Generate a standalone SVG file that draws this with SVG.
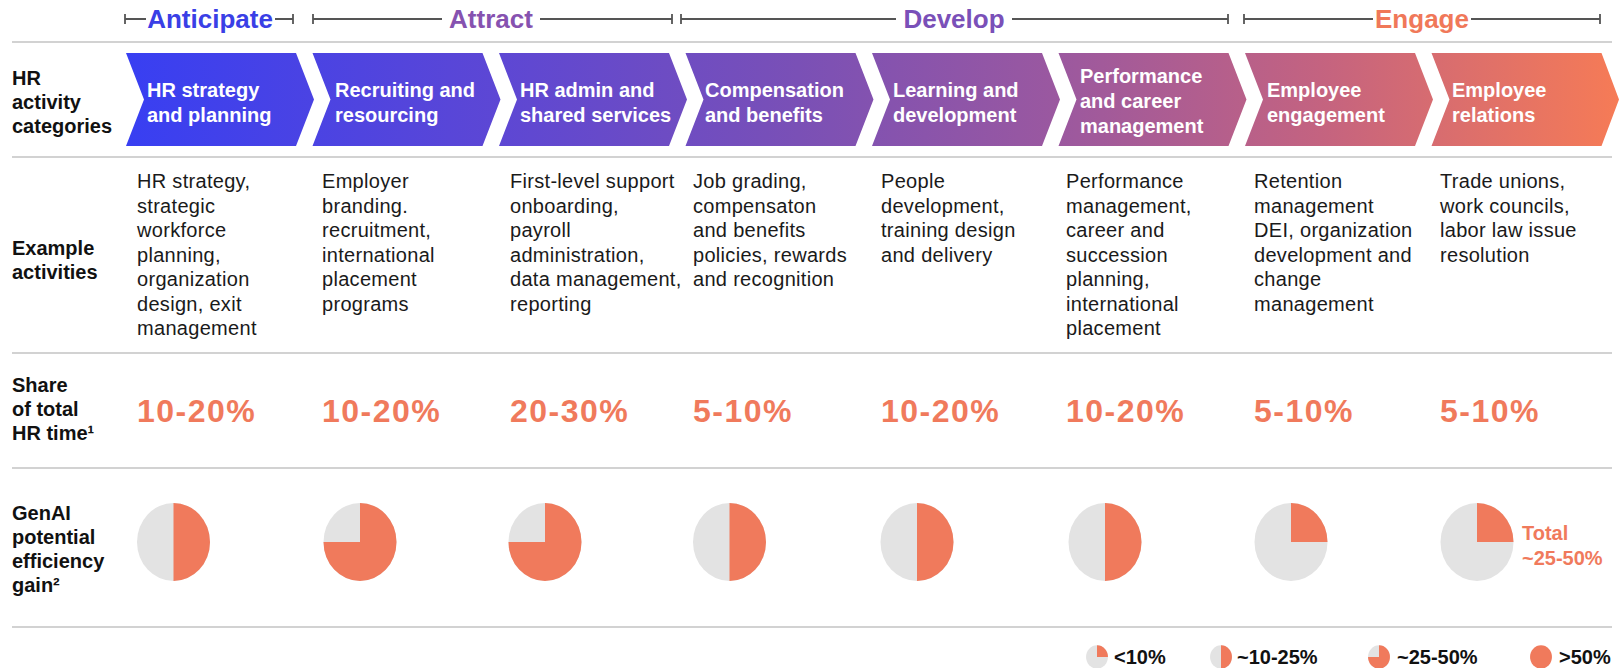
<svg xmlns="http://www.w3.org/2000/svg" width="1619" height="668" viewBox="0 0 1619 668">
<style>
.bg{fill:#ffffff}
.sep{stroke:#d2d2d2;stroke-width:2}
.brk{stroke:#555555;stroke-width:1.8;fill:none}
.ph{font-family:"Liberation Sans",Arial,sans-serif;font-weight:700;font-size:26px;text-anchor:middle}
.rl{font-family:"Liberation Sans",Arial,sans-serif;font-weight:700;font-size:20px;fill:#111}
.cv{fill:url(#cg)}
.ct{font-family:"Liberation Sans",Arial,sans-serif;font-weight:700;font-size:20px;fill:#ffffff}
.ex{font-family:"Liberation Sans",Arial,sans-serif;font-size:20px;letter-spacing:0.3px;fill:#1a1a1a}
.sh{font-family:"Liberation Sans",Arial,sans-serif;font-weight:700;font-size:32px;letter-spacing:1.5px;fill:#f07a5c}
.tot{font-family:"Liberation Sans",Arial,sans-serif;font-weight:700;font-size:20px;fill:#f07a5c}
.lg{font-family:"Liberation Sans",Arial,sans-serif;font-weight:700;font-size:20px;fill:#111}
.pg{fill:#e3e3e3}
.pc{fill:#f07a5c}
</style>
<defs>
<linearGradient id="cg" gradientUnits="userSpaceOnUse" x1="126" y1="0" x2="1619" y2="0">
<stop offset="0" stop-color="#383ff2"/>
<stop offset="0.25" stop-color="#5d47d4"/>
<stop offset="0.45" stop-color="#7a50b6"/>
<stop offset="0.62" stop-color="#9a58a0"/>
<stop offset="0.8" stop-color="#c46380"/>
<stop offset="1" stop-color="#f67b56"/>
</linearGradient>
<g id="pie-q"><ellipse class="pg" cx="0" cy="0" rx="36.5" ry="39"/><path class="pc" d="M0,0 L0,-39 A36.5,39 0 0 1 36.5,0 Z"/></g>
<g id="pie-h"><ellipse class="pg" cx="0" cy="0" rx="36.5" ry="39"/><path class="pc" d="M0,-39 A36.5,39 0 0 1 0,39 Z"/></g>
<g id="pie-t"><ellipse class="pg" cx="0" cy="0" rx="36.5" ry="39"/><path class="pc" d="M0,0 L0,-39 A36.5,39 0 1 1 -36.5,0 Z"/></g>
<g id="pie-f"><ellipse class="pc" cx="0" cy="0" rx="36.5" ry="39"/></g>
</defs>
<rect class="bg" x="0" y="0" width="1619" height="668"/>

<g id="grid">
<line class="sep" x1="12" y1="42" x2="1612" y2="42"/>
<line class="sep" x1="12" y1="157" x2="1612" y2="157"/>
<line class="sep" x1="12" y1="353" x2="1612" y2="353"/>
<line class="sep" x1="12" y1="468" x2="1612" y2="468"/>
<line class="sep" x1="12" y1="627" x2="1612" y2="627"/>
</g>

<g id="connectors">
<path class="brk" d="M125,19 H146 M125,14 V24 M275,19 H293 M293,14 V24"/>
<path class="brk" d="M313,19 H442 M313,14 V24 M540,19 H672 M672,14 V24"/>
<path class="brk" d="M681,19 H896 M681,14 V24 M1012,19 H1228 M1228,14 V24"/>
<path class="brk" d="M1244,19 H1373 M1244,14 V24 M1471,19 H1600 M1600,14 V24"/>
</g>

<g id="phases">
<text class="ph" x="210" y="28" fill="#3a3fe6">Anticipate</text>
<text class="ph" x="491" y="28" fill="#8652b0">Attract</text>
<text class="ph" x="954" y="28" fill="#7a50b8">Develop</text>
<text class="ph" x="1422" y="28" fill="#f07859">Engage</text>
</g>

<g id="row-labels">
<text class="rl" x="12" y="85">HR</text>
<text class="rl" x="12" y="109">activity</text>
<text class="rl" x="12" y="133">categories</text>
<text class="rl" x="12" y="255">Example</text>
<text class="rl" x="12" y="279">activities</text>
<text class="rl" x="12" y="392">Share</text>
<text class="rl" x="12" y="416">of total</text>
<text class="rl" x="12" y="440">HR time¹</text>
<text class="rl" x="12" y="520">GenAI</text>
<text class="rl" x="12" y="544">potential</text>
<text class="rl" x="12" y="568">efficiency</text>
<text class="rl" x="12" y="592">gain²</text>
</g>

<g id="cat-1">
<polygon class="cv" points="126,53 296,53 314,99.5 296,146 126,146 144,99.5"/>
<text class="ct" x="147" y="97">HR strategy</text>
<text class="ct" x="147" y="122">and planning</text>
<text class="ex" x="137"><tspan x="137" y="188">HR strategy,</tspan><tspan x="137" y="212.5">strategic</tspan><tspan x="137" y="237">workforce</tspan><tspan x="137" y="261.5">planning,</tspan><tspan x="137" y="286">organization</tspan><tspan x="137" y="310.5">design, exit</tspan><tspan x="137" y="335">management</tspan></text>
<text class="sh" x="137" y="422">10-20%</text>
<use href="#pie-h" x="173.5" y="542"/>
</g>

<g id="cat-2">
<polygon class="cv" points="312.5,53 482.5,53 500.5,99.5 482.5,146 312.5,146 330.5,99.5"/>
<text class="ct" x="335" y="97">Recruiting and</text>
<text class="ct" x="335" y="122">resourcing</text>
<text class="ex" x="322"><tspan x="322" y="188">Employer</tspan><tspan x="322" y="212.5">branding.</tspan><tspan x="322" y="237">recruitment,</tspan><tspan x="322" y="261.5">international</tspan><tspan x="322" y="286">placement</tspan><tspan x="322" y="310.5">programs</tspan></text>
<text class="sh" x="322" y="422">10-20%</text>
<use href="#pie-t" x="360" y="542"/>
</g>

<g id="cat-3">
<polygon class="cv" points="499,53 669,53 687,99.5 669,146 499,146 517,99.5"/>
<text class="ct" x="520" y="97">HR admin and</text>
<text class="ct" x="520" y="122">shared services</text>
<text class="ex" x="510"><tspan x="510" y="188">First-level support</tspan><tspan x="510" y="212.5">onboarding,</tspan><tspan x="510" y="237">payroll</tspan><tspan x="510" y="261.5">administration,</tspan><tspan x="510" y="286">data management,</tspan><tspan x="510" y="310.5">reporting</tspan></text>
<text class="sh" x="510" y="422">20-30%</text>
<use href="#pie-t" x="545" y="542"/>
</g>

<g id="cat-4">
<polygon class="cv" points="685.5,53 855.5,53 873.5,99.5 855.5,146 685.5,146 703.5,99.5"/>
<text class="ct" x="705" y="97">Compensation</text>
<text class="ct" x="705" y="122">and benefits</text>
<text class="ex" x="693"><tspan x="693" y="188">Job grading,</tspan><tspan x="693" y="212.5">compensaton</tspan><tspan x="693" y="237">and benefits</tspan><tspan x="693" y="261.5">policies, rewards</tspan><tspan x="693" y="286">and recognition</tspan></text>
<text class="sh" x="693" y="422">5-10%</text>
<use href="#pie-h" x="729.5" y="542"/>
</g>

<g id="cat-5">
<polygon class="cv" points="872,53 1042,53 1060,99.5 1042,146 872,146 890,99.5"/>
<text class="ct" x="893" y="97">Learning and</text>
<text class="ct" x="893" y="122">development</text>
<text class="ex" x="881"><tspan x="881" y="188">People</tspan><tspan x="881" y="212.5">development,</tspan><tspan x="881" y="237">training design</tspan><tspan x="881" y="261.5">and delivery</tspan></text>
<text class="sh" x="881" y="422">10-20%</text>
<use href="#pie-h" x="917" y="542"/>
</g>

<g id="cat-6">
<polygon class="cv" points="1058.5,53 1228.5,53 1246.5,99.5 1228.5,146 1058.5,146 1076.5,99.5"/>
<text class="ct" x="1080" y="83">Performance</text>
<text class="ct" x="1080" y="108">and career</text>
<text class="ct" x="1080" y="133">management</text>
<text class="ex" x="1066"><tspan x="1066" y="188">Performance</tspan><tspan x="1066" y="212.5">management,</tspan><tspan x="1066" y="237">career and</tspan><tspan x="1066" y="261.5">succession</tspan><tspan x="1066" y="286">planning,</tspan><tspan x="1066" y="310.5">international</tspan><tspan x="1066" y="335">placement</tspan></text>
<text class="sh" x="1066" y="422">10-20%</text>
<use href="#pie-h" x="1105" y="542"/>
</g>

<g id="cat-7">
<polygon class="cv" points="1245,53 1415,53 1433,99.5 1415,146 1245,146 1263,99.5"/>
<text class="ct" x="1267" y="97">Employee</text>
<text class="ct" x="1267" y="122">engagement</text>
<text class="ex" x="1254"><tspan x="1254" y="188">Retention</tspan><tspan x="1254" y="212.5">management</tspan><tspan x="1254" y="237">DEI, organization</tspan><tspan x="1254" y="261.5">development and</tspan><tspan x="1254" y="286">change</tspan><tspan x="1254" y="310.5">management</tspan></text>
<text class="sh" x="1254" y="422">5-10%</text>
<use href="#pie-q" x="1291" y="542"/>
</g>

<g id="cat-8">
<polygon class="cv" points="1431.5,53 1601.5,53 1619,99.5 1601.5,146 1431.5,146 1449.5,99.5"/>
<text class="ct" x="1452" y="97">Employee</text>
<text class="ct" x="1452" y="122">relations</text>
<text class="ex" x="1440"><tspan x="1440" y="188">Trade unions,</tspan><tspan x="1440" y="212.5">work councils,</tspan><tspan x="1440" y="237">labor law issue</tspan><tspan x="1440" y="261.5">resolution</tspan></text>
<text class="sh" x="1440" y="422">5-10%</text>
<use href="#pie-q" x="1477" y="542"/>
<text class="tot" x="1522" y="540">Total</text>
<text class="tot" x="1522" y="565">~25-50%</text>
</g>

<g id="legend">
<use href="#pie-q" transform="translate(1097,657) scale(0.3)"/>
<text class="lg" x="1114" y="664">&lt;10%</text>
<use href="#pie-h" transform="translate(1221,657) scale(0.3)"/>
<text class="lg" x="1237" y="664">~10-25%</text>
<use href="#pie-t" transform="translate(1379,657) scale(0.3)"/>
<text class="lg" x="1397" y="664">~25-50%</text>
<use href="#pie-f" transform="translate(1541,657) scale(0.3)"/>
<text class="lg" x="1559" y="664">&gt;50%</text>
</g>
</svg>
